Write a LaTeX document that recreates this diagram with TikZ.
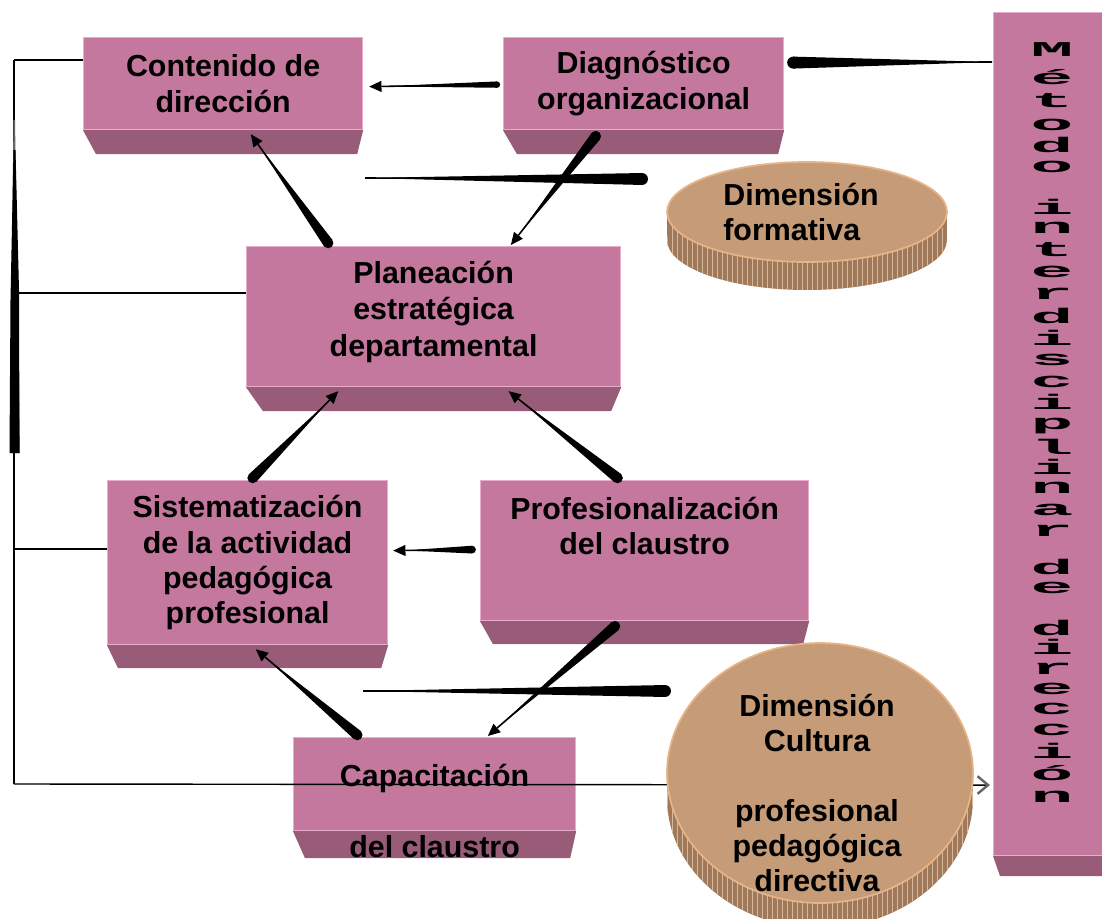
\documentclass[tikz,border=0pt]{standalone}
\usepackage{fontspec}
\setmainfont{Liberation Sans}
\newfontfamily\vmono{Liberation Mono}
\usetikzlibrary{calc,arrows.meta,shapes.geometric}
\definecolor{boxfront}{RGB}{196,120,158}
\definecolor{boxside}{RGB}{152,92,120}
\definecolor{boxedge}{RGB}{234,172,204}
\definecolor{elltop}{RGB}{198,156,120}
\definecolor{ellside}{RGB}{160,120,90}
\definecolor{elllight}{RGB}{214,184,156}
\definecolor{elledge}{RGB}{230,180,134}
\newcommand\boxbottom[4]{%
  \fill[boxside] (#1.south west) -- (#1.south east) -- ($(#1.south east)+(-#3,#4)$) -- ($(#1.south west)+(#2,#4)$) -- cycle;}
\newcommand\tarrow[3]{%
  \coordinate (tH) at ($(#2)!7pt!(#1)$);
  \fill[black] ($(#1)!#3!90:(#2)$) -- (tH) -- ($(#1)!#3!-90:(#2)$) -- cycle;
  \fill[black] (#1) circle [radius=#3];
  \draw[black, line width=0.9pt] (#1) -- (tH);
  \fill[black] ($(tH)!3.2pt!90:(#2)$) -- (#2) -- ($(tH)!3.2pt!-90:(#2)$) -- cycle;}
\newcommand\tline[3]{%
  \fill[black] ($(#1)!#3!90:(#2)$) -- (#2) -- ($(#1)!#3!-90:(#2)$) -- cycle;
  \fill[black] (#1) circle [radius=#3];
  \draw[black, line width=0.9pt] (#1) -- (#2);}
\begin{document}
\begin{tikzpicture}[x=0.02cm,y=-0.02cm,
  box/.style={draw=boxedge, line width=0.7pt, fill=boxfront, inner sep=0pt, anchor=north west},
  lbl/.style={font=\bfseries\fontsize{17.3}{20}\selectfont, align=center, inner sep=0pt, text=black},
  conn/.style={black, line width=0.8pt},
  vlet/.style={font=\vmono\bfseries\fontsize{15}{15}\selectfont, inner sep=0pt, text=black}]
\useasboundingbox (0,0) rectangle (1102,919);
\fill[white] (0,0) rectangle (1102,919);

% boxes
\node[box, minimum width=5.58cm, minimum height=1.84cm] (cont) at (83,37) {};
\boxbottom{cont}{13}{6}{24}
\node[box, minimum width=5.6cm, minimum height=1.84cm] (diag) at (503,37) {};
\boxbottom{diag}{14}{6}{24}
\node[box, minimum width=7.48cm, minimum height=2.8cm] (plan) at (246,246) {};
\boxbottom{plan}{17}{10}{24}
\node[box, minimum width=5.6cm, minimum height=3.28cm] (sist) at (107,480) {};
\boxbottom{sist}{11}{7}{23}
\node[box, minimum width=6.56cm, minimum height=2.8cm] (prof) at (480,480) {};
\boxbottom{prof}{13}{6}{23}
\node[box, minimum width=5.64cm, minimum height=1.86cm] (cap) at (293,737) {};
\boxbottom{cap}{12}{6}{27}
\node[box, minimum width=2.4cm, minimum height=16.86cm] (meth) at (993,12) {};
\boxbottom{meth}{7}{0}{20}

% left bracket
\coordinate (spT) at ($(cont.north west)+(-69,23)$);
\coordinate (spB) at ($(cap.north west)+(-279,47)$);
\coordinate (cL) at ($(cont.north west)+(0,23)$);
\coordinate (pL) at ($(plan.north west)+(0,47)$);
\coordinate (sL) at ($(sist.north west)+(0,69)$);
\coordinate (spP) at ($(spT)+(0,233)$);
\coordinate (spS) at ($(spT)+(0,489)$);
\draw[conn] (spT) -- (spB);
\draw[conn] (spT) -- (cL);
\draw[conn] (spP) -- (pL);
\draw[conn] (spS) -- (sL);
\fill[black!60] (13.5,120) -- (15,120) -- (17,250) -- (20,453) -- (11,453) -- (12,250) -- cycle;
\fill[black] (13.5,150) -- (15.5,150) -- (19,290) -- (19.5,453) -- (9.5,453) -- (10.5,300) -- cycle;
\coordinate (mArr) at ($(meth.south west)+(-3,-71)$);
\draw[conn, -{Straight Barb[length=6pt,width=10pt,line width=1.4pt,color=black!60]}] (spB) -- (mArr);

% thick arrows
\coordinate (a1w) at ($(diag.west)+(-6,1)$);
\coordinate (a1t) at ($(cont.east)+(6,3)$);
\tarrow{a1w}{a1t}{1.8pt}
\coordinate (a2w) at ($(diag.east)+(9,-21)$);
\coordinate (a2t) at ($(meth.north west)+(-1,50)$);
\tline{a2w}{a2t}{3.4pt}
\coordinate (formC) at (807,212);
\coordinate (f2) at ($(formC)+(-165,-33)$);
\coordinate (f1) at (365,178);
\tline{f2}{f1}{3.4pt}
\coordinate (a4w) at ($(plan.north west)!0.219!(plan.north east)+(0,-3)$);
\coordinate (a4t) at ($(cont.south west)!0.599!(cont.south east)+(0,4)$);
\tarrow{a4w}{a4t}{3pt}
\coordinate (a5w) at ($(diag.south west)!0.33!(diag.south east)+(0,6)$);
\coordinate (a5t) at ($(plan.north west)!0.706!(plan.north east)+(0,-1)$);
\tarrow{a5w}{a5t}{3pt}
\coordinate (a6w) at ($(sist.north west)!0.518!(sist.north east)+(0,-2)$);
\coordinate (a6t) at ($(plan.south west)!0.246!(plan.south east)+(0,4)$);
\tarrow{a6w}{a6t}{3pt}
\coordinate (a7w) at ($(prof.north west)!0.418!(prof.north east)+(0,-2)$);
\coordinate (a7t) at ($(plan.south west)!0.70!(plan.south east)+(0,4)$);
\tarrow{a7w}{a7t}{3pt}
\coordinate (a8w) at ($(prof.west)+(-8,-1)$);
\coordinate (a8t) at ($(sist.east)+(5,-12)$);
\tarrow{a8w}{a8t}{2.2pt}
\coordinate (a9w) at ($(cap.north west)!0.227!(cap.north east)+(0,-2)$);
\coordinate (a9t) at ($(sist.south west)!0.529!(sist.south east)+(0,4)$);
\tarrow{a9w}{a9t}{3pt}
\coordinate (a10w) at ($(prof.south west)!0.41!(prof.south east)+(0,5)$);
\coordinate (a10t) at ($(cap.north west)!0.688!(cap.north east)+(0,-1)$);
\tarrow{a10w}{a10t}{3pt}
\coordinate (cultC) at (820,773);
\coordinate (c2) at ($(cultC)+(-155,-82)$);
\coordinate (c1) at (363,691);
\tline{c2}{c1}{3.4pt}

% ellipse formativa
\fill[ellside] ($(formC)+(0,28)$) ellipse [x radius=2.8cm, y radius=1cm];
\fill[ellside] ($(formC)+(-140,0)$) rectangle ($(formC)+(140,28)$);
\begin{scope}
  \clip ($(formC)+(0,28)$) ellipse [x radius=2.8cm, y radius=1cm];
  \foreach \xx in {0,5,...,280} \draw[elllight, line width=0.5pt] ($(formC)+(\xx-140,0)$) -- ++(0,80);
\end{scope}
\node[ellipse, draw=elledge, line width=1pt, fill=elltop, minimum width=5.6cm, minimum height=2cm, inner sep=0pt] (form) at (formC) {};

% ellipse cultura
\fill[ellside] ($(cultC)+(0,25)$) ellipse [x radius=3.06cm, y radius=2.6cm];
\fill[ellside] ($(cultC)+(-153,0)$) rectangle ($(cultC)+(153,25)$);
\begin{scope}
  \clip ($(cultC)+(0,25)$) ellipse [x radius=3.06cm, y radius=2.6cm];
  \foreach \xx in {0,5,...,306} \draw[elllight, line width=0.5pt] ($(cultC)+(\xx-153,0)$) -- ++(0,170);
\end{scope}
\node[ellipse, draw=elledge, line width=1pt, fill=elltop, minimum width=6.12cm, minimum height=5.2cm, inner sep=0pt] (cult) at (cultC) {};

% texts
\node[lbl] (contT) at (cont.center) {Contenido de\\dirección};
\node[lbl] (diagT) at (diag.center) {Diagnóstico\\organizacional};
\node[lbl, font=\bfseries\fontsize{17.3}{20.8}\selectfont] (planT) at ($(plan.center)+(0,-5)$) {Planeación\\estratégica\\departamental};
\node[lbl] (sistT) at (sist.center) {Sistematización\\de la actividad\\pedagógica\\profesional};
\node[lbl] (profT) at ($(prof.north)+(0,46)$) {Profesionalización\\del claustro};
\node[lbl] (capT) at ($(cap.center)+(0,27)$) {Capacitación\\[20pt]del claustro};
\node[lbl, align=left, anchor=west] (formT) at ($(formC)+(-84,0)$) {Dimensión\\formativa};
\node[lbl] (cultT) at ($(cultC)+(-3,20)$) {Dimensión\\Cultura\\[20pt]profesional\\pedagógica\\directiva};

% vertical title
\foreach \ch/\yy [count=\k] in {M/50,é/77,t/101,o/125,d/145,o/167,i/207,n/228,t/250,e/272,r/294,d/316,i/338,s/360,c/382,i/402,p/426,l/447,i/467,n/488,a/510,r/531,d/567,e/588,d/628,i/647,r/669,e/689,c/709,c/730,i/751,ó/773,n/797}
  \node[vlet] (v\k) at (1052,\yy) {\scalebox{2.7}[0.8]{\ch}};
\end{tikzpicture}
\end{document}
